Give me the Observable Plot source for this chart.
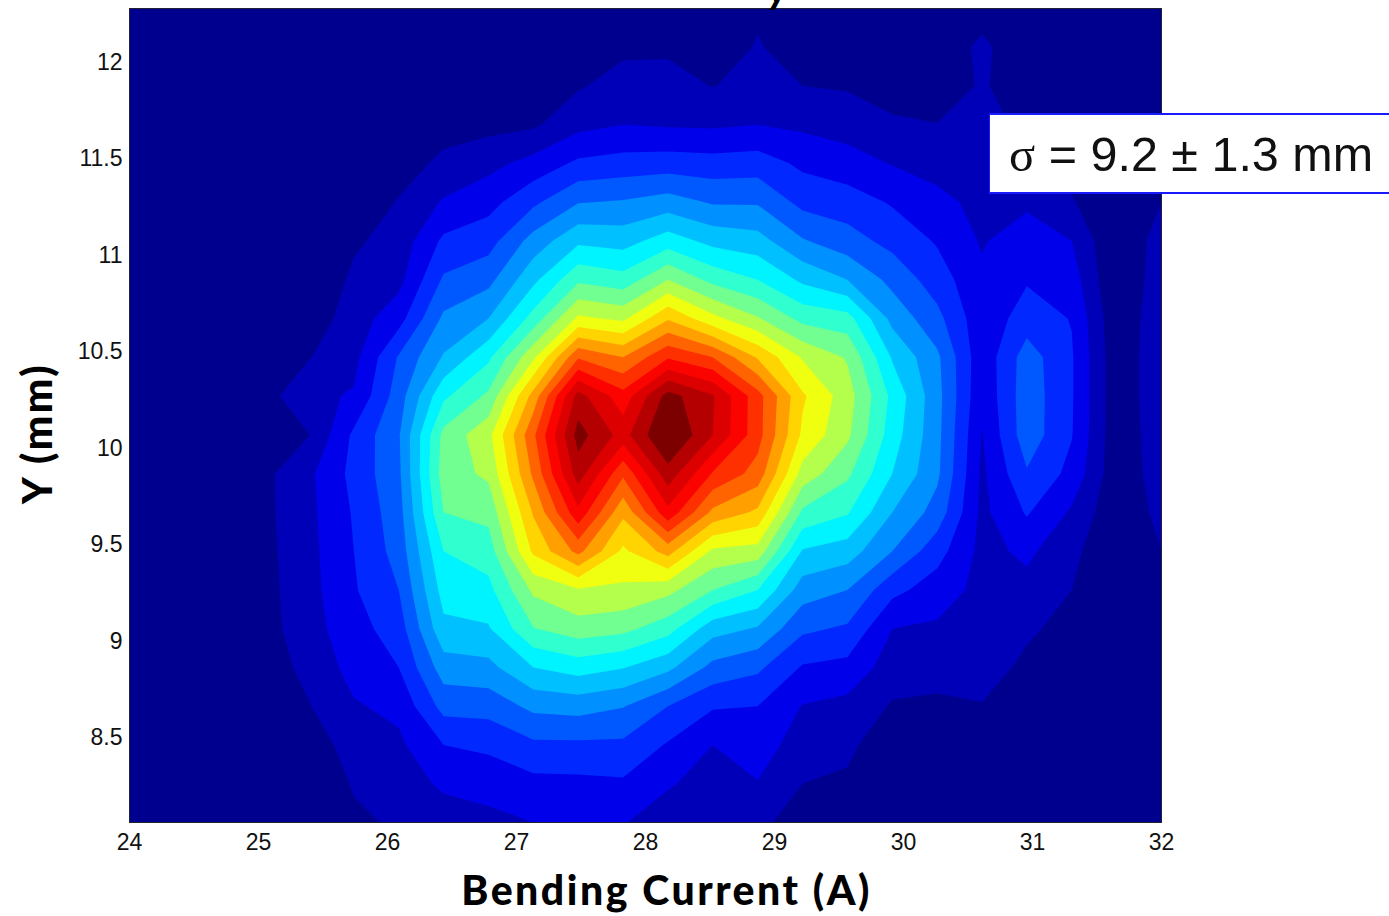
<!DOCTYPE html>
<html>
<head>
<meta charset="utf-8">
<script src="https://cdn.jsdelivr.net/npm/d3@7"></script>
<script src="https://cdn.jsdelivr.net/npm/@observablehq/plot@0.6"></script>
<style>
html,body{margin:0;padding:0;background:#fff;}
#wrap{position:relative;width:1389px;height:916px;overflow:hidden;}
#note{position:absolute;left:989px;top:113px;width:400px;height:77px;background:#fff;border:solid #1a1aff;border-width:2px 0 2px 1px;box-sizing:content-box;font:48.5px "Liberation Sans",sans-serif;color:#111;line-height:79px;white-space:pre;text-indent:19px;}
#note span{font-family:"Liberation Serif",serif;}
#cut{position:absolute;left:755px;top:0;width:40px;height:10px;overflow:hidden;font:italic bold 40px "Lato",sans-serif;color:#000;line-height:0;}
#cut b{position:absolute;left:13px;top:-26px;line-height:28px;}
.biglab{letter-spacing:2.5px;}
</style>
</head>
<body>
<div id="wrap"><div id="chart"></div>
<div id="cut"><b>y</b></div>
<div id="note"><span>σ</span> = 9.2 ± 1.3 mm</div></div>
<script>
const xTicks = [24,25,26,27,28,29,30,31,32];
const yTicks = [8.5,9,9.5,10,10.5,11,11.5,12];
const xDomain = [24,32];
const yDomain = [8.062,12.28];
const levels = [1,2,3,4,5,6,7,8,9,10,11,12,13,14,15,16,17,18,19];
const levelColors = ["#00008f","#0000b8","#0000ea","#0028ff","#0058ff","#0090ff","#00c0ff","#00f4ff","#30ffd0","#70ff90","#b4ff4c","#f0ff10","#ffd400","#ffa000","#ff6400","#ff3000","#fb0400","#dc0000","#b40000","#7c0000"];
const xLabel = "Bending Current (A)";
const yLabel = "Y (mm)";

// one array per current step (left to right), each read from top row to bottom row
const c00 = [0,0,0,0,0,0,0,0,0,0,0,0,0,0,0,0,0,0,0,0,0,0];
const c01 = [0,0,0,0,0,0,0,0,0,0,0,0,0,0,0,0,0,0,0,0,0,0];
const c02 = [0,0,0,0,0,0,0,0,0,0,0,0,0,0,0,0,0,0,0,0,0,0];
const c03 = [0,0,0,0,0,0,0,0,0,.35,.6,.5,.75,.75,.7,.65,.6,.45,.1,0,0,0];
const c04 = [0,0,0,0,0,0,0,.1,.4,.95,1.75,.97,1.8,1.75,1.7,1.65,1.6,1.3,.95,.5,.1,0];
const c05 = [0,0,0,0,0,0,.85,1.2,1.5,1.7,2.1,3.2,3.3,3.1,3,2.9,2.6,2.35,1.9,1.4,1.1,.8];
const c06 = [0,0,0,0,.4,1.1,1.4,1.7,2.6,4.1,4.5,4.9,4.8,4.6,4.4,4,3.5,3,2.25,1.8,1.4,1.15];
const c07 = [0,0,0,.5,1.3,2.1,3.2,4.15,5.2,6.1,7.8,9.3,9.5,9,8,7.4,6.75,5.5,4.35,3,2.2,1.4];
const c08 = [0,0,.1,.7,1.7,2.65,3.6,4.7,6,7.8,9.2,10.7,10.2,9.3,8.5,7.7,6.9,5.7,4.4,3.2,2.4,1.7];
const c09 = [0,0,.2,.85,2.35,3.8,5.4,6.75,8.4,10.8,13.4,14.8,14.2,13.1,12.2,10.2,8.95,7,5.25,3.8,2.7,2];
const c10 = [0,.2,.9,1.7,3.2,4.95,6.8,8.8,11.2,14.9,18.4,19.4,18.5,16.7,14.3,10.9,9.55,7.45,5.4,3.8,2.75,2.05];
const c11 = [.1,.8,1.4,2,3.4,5.1,6.6,8.4,10.8,14,16.4,17.6,15.2,13.25,11.8,10.8,9.3,7.05,5.05,3.8,2.85,2.05];
const c12 = [.1,.85,1.35,1.9,3.5,5.45,7.5,10,12.9,15.9,19.4,20.2,18.6,16.7,13.4,10.3,8.4,6.25,4,2.9,2.1,1.5];
const c13 = [0,.3,.97,1.85,3.4,4.9,6.7,8.7,11.3,15,18.1,18,15.9,13.75,10.8,9,6.4,4.7,3.1,2,1.6,1.3];
const c14 = [.8,1.1,1.3,2,3.5,4.9,6.4,8,10.1,12.9,15.4,15.4,14.6,12.8,10.6,8,5.9,4.2,3,2.5,1.95,1.3];
const c15 = [.1,.4,1,1.8,2.8,3.7,5.1,6.8,8.7,10.9,12.15,11.8,10.6,8.8,6.9,5.5,4.2,2.9,1.95,1.5,1,.4];
const c16 = [0,.1,.9,1.6,2.4,3.5,4.4,6,8.4,9.9,10.45,10.2,9.2,8.1,6.5,5,3.85,2.7,1.7,1.2,.85,.3];
const c17 = [0,0,.2,1.3,1.95,2.9,3.7,4.7,5.7,6.9,7.75,7.5,7,6,5,3.3,2,1.5,.9,.4,.1,0];
const c18 = [0,.1,0,1.05,1.6,2.3,2.9,3.5,4.3,5.2,5.35,5.3,5.2,4.6,3.4,2.5,1.85,1.3,.85,.3,0,0];
const c19 = [.4,1.3,1.2,1.3,1.5,1.7,1.9,2.2,2.3,2.3,2.2,1.95,1.8,1.75,1.7,1.7,1.65,1.4,.95,.5,.1,0];
const c20 = [0,0,0,.8,1.1,1.8,2.6,2.9,3.5,4.5,4.6,4.6,3.9,3.1,2.2,1.7,1.15,.8,.5,.2,0,0];
const c21 = [0,0,0,.1,.6,1.1,2,2.5,2.95,3.1,3.1,3.05,2.7,1.85,1.3,1,.7,.3,.1,0,0,0];
const c22 = [0,0,0,0,0,0,0,0,.2,.3,.3,.3,.3,.2,0,0,0,0,0,0,0,0];
const c23 = [.3,.3,.3,.3,.3,1,1.5,1.6,1.7,1.7,1.7,1.6,1.5,1.3,1,.7,.4,.1,0,0,0,0];

const columns = [c00,c01,c02,c03,c04,c05,c06,c07,c08,c09,c10,c11,c12,c13,c14,c15,c16,c17,c18,c19,c20,c21,c22,c23];
const nx = columns.length, ny = c00.length;
const grid = [];
for (let r = 0; r < ny; r++) for (let c = 0; c < nx; c++) grid.push(columns[c][r]);
const dx = (xDomain[1]-xDomain[0])/(nx-1), dy = (yDomain[1]-yDomain[0])/(ny-1);

const tickFont = {fontFamily:"Liberation Sans, sans-serif", fontSize:"23px", fill:"#111"};
const chart = Plot.plot({
  width:1389, height:916,
  marginLeft:129, marginRight:228, marginTop:8, marginBottom:94,
  style:{background:"#fff", overflow:"visible"},
  x:{domain:xDomain},
  y:{domain:yDomain},
  color:{type:"threshold", domain:levels, range:levelColors},
  marks:[
    Plot.contour(grid,{
      width:nx, height:ny,
      x1:xDomain[0]-dx/2, x2:xDomain[1]+dx/2,
      y1:yDomain[1]+dy/2, y2:yDomain[0]-dy/2,
      fill:Plot.identity, stroke:"none",
      thresholds:[0,...levels], clip:true
    }),
    Plot.frame({stroke:"#223"}),
    Plot.axisX({ticks:xTicks, tickSize:0, tickPadding:11, label:null, tickFormat:d=>String(d), ...tickFont}),
    Plot.axisY({ticks:yTicks, tickSize:0, tickPadding:7, label:null, tickFormat:d=>String(d), ...tickFont}),
    Plot.text([xLabel],{text:d=>d, className:"biglab", frameAnchor:"bottom", dx:21, dy:82, fontFamily:"Lato, sans-serif", fontWeight:900, fontSize:41, fill:"#000"}),
    Plot.text([yLabel],{text:d=>d, className:"biglab", frameAnchor:"left", textAnchor:"middle", rotate:-90, dx:-91, dy:18, fontFamily:"Lato, sans-serif", fontWeight:900, fontSize:41, fill:"#000"})
  ]
});
document.getElementById("chart").appendChild(chart);
</script>
</body>
</html>
